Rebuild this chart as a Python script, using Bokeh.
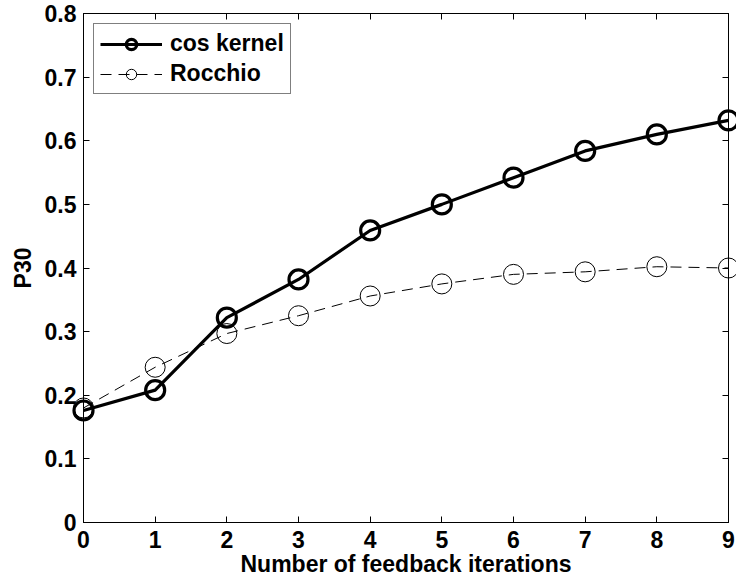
from bokeh.plotting import figure
from bokeh.models import FixedTicker, LinearAxis, Range1d, Legend, LegendItem
from bokeh.embed import file_html
from bokeh.resources import INLINE

# ---- data ----
iterations = [0, 1, 2, 3, 4, 5, 6, 7, 8, 9]
cos_kernel = [0.176, 0.208, 0.322, 0.382, 0.459, 0.500, 0.542, 0.584, 0.610, 0.632]
rocchio = [0.180, 0.244, 0.297, 0.325, 0.356, 0.375, 0.390, 0.394, 0.402, 0.400]
x_ticks = [0, 1, 2, 3, 4, 5, 6, 7, 8, 9]
y_ticks = [0.0, 0.1, 0.2, 0.3, 0.4, 0.5, 0.6, 0.7, 0.8]
y_tick_labels = ["0", "0.1", "0.2", "0.3", "0.4", "0.5", "0.6", "0.7", "0.8"]

FONT = "Liberation Sans"
FS = "23px"

p = figure(width=736, height=586, output_backend="svg", toolbar_location=None,
           x_range=Range1d(0, 9), y_range=Range1d(0, 0.8),
           min_border_left=83, min_border_right=8, min_border_top=13, min_border_bottom=64,
           x_axis_label="Number of feedback iterations", y_axis_label="P30")
p.grid.visible = False
p.outline_line_color = "black"
p.outline_line_width = 1
p.background_fill_color = "white"
p.border_fill_color = "white"

# bottom / left axes
for ax in (p.xaxis[0], p.yaxis[0]):
    ax.axis_line_color = "black"
    ax.axis_line_width = 1
    ax.major_tick_line_color = "black"
    ax.major_tick_in = 6
    ax.major_tick_out = 0
    ax.minor_tick_line_color = None
    ax.major_label_text_font = FONT
    ax.major_label_text_font_style = "bold"
    ax.major_label_text_font_size = FS
    ax.major_label_text_color = "black"
    ax.axis_label_text_font = FONT
    ax.axis_label_text_font_style = "bold"
    ax.axis_label_text_font_size = FS
    ax.axis_label_text_color = "black"

p.xaxis[0].ticker = FixedTicker(ticks=x_ticks)
p.xaxis[0].major_label_standoff = 8
p.xaxis[0].axis_label_standoff = 0
p.yaxis[0].ticker = FixedTicker(ticks=y_ticks)
p.yaxis[0].major_label_overrides = {t: l for t, l in zip(y_ticks, y_tick_labels)}
p.yaxis[0].major_label_standoff = 7
p.yaxis[0].axis_label_standoff = 6

# top / right mirror axes (ticks only)
top = LinearAxis(ticker=FixedTicker(ticks=x_ticks))
right = LinearAxis(ticker=FixedTicker(ticks=y_ticks))
for ax in (top, right):
    ax.axis_line_color = "black"
    ax.major_tick_line_color = "black"
    ax.major_tick_in = 6
    ax.major_tick_out = 0
    ax.minor_tick_line_color = None
    ax.major_label_text_font_size = "1px"
    ax.major_label_text_color = None
    ax.major_label_standoff = 0
p.add_layout(top, "above")
p.add_layout(right, "right")

# series
l1 = p.line(iterations, cos_kernel, line_color="black", line_width=3.2)
m1 = p.scatter(iterations, cos_kernel, marker="circle", size=19, fill_color=None,
               line_color="black", line_width=3.2)
l2 = p.line(iterations, rocchio, line_color="black", line_width=1, line_dash="11 7")
m2 = p.scatter(iterations, rocchio, marker="circle", size=20, fill_color=None,
               line_color="black", line_width=1)
for r in (l1, m1, l2, m2):
    r.level = "overlay"

legend = Legend(items=[LegendItem(label="cos kernel", renderers=[l1, m1]),
                       LegendItem(label="Rocchio", renderers=[l2, m2])],
                location="top_left")
legend.margin = 10
legend.padding = 6
legend.spacing = 3
legend.glyph_width = 62
legend.glyph_height = 26
legend.label_height = 26
legend.label_standoff = 8
legend.label_text_font = FONT
legend.label_text_font_style = "bold"
legend.label_text_font_size = FS
legend.label_text_color = "black"
legend.border_line_color = "black"
legend.border_line_width = 1
legend.background_fill_color = "white"
legend.background_fill_alpha = 1
p.add_layout(legend, "center")

open("out.html", "w").write(file_html(p, INLINE))
